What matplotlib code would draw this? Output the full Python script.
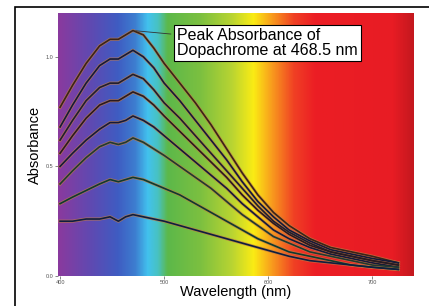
import numpy as np
import matplotlib
matplotlib.use('Agg')
import matplotlib.pyplot as plt
from matplotlib.colors import LinearSegmentedColormap
from matplotlib.patches import Rectangle

plt.rcParams['font.family'] = ['Liberation Sans', 'DejaVu Sans']

# wavelengths (nm)
wavelength = [400, 412, 425, 438, 448, 456, 463, 470, 480, 490, 500, 515,
              530, 545, 560, 575, 590, 605, 620, 640, 660, 680, 700, 725]

# absorbance curves, top to bottom
abs_1 = [0.77, 0.87, 0.97, 1.05, 1.08, 1.08, 1.10, 1.12, 1.10, 1.04, 0.97, 0.88,
         0.79, 0.69, 0.58, 0.47, 0.37, 0.29, 0.23, 0.17, 0.13, 0.11, 0.09, 0.06]
abs_2 = [0.68, 0.78, 0.88, 0.96, 0.99, 0.99, 1.01, 1.03, 1.00, 0.95, 0.88, 0.80,
         0.71, 0.62, 0.53, 0.43, 0.34, 0.27, 0.21, 0.16, 0.12, 0.10, 0.08, 0.06]
abs_3 = [0.62, 0.71, 0.80, 0.86, 0.88, 0.88, 0.90, 0.92, 0.90, 0.85, 0.79, 0.72,
         0.64, 0.56, 0.48, 0.40, 0.32, 0.25, 0.20, 0.15, 0.11, 0.09, 0.07, 0.05]
abs_4 = [0.56, 0.64, 0.72, 0.78, 0.80, 0.80, 0.82, 0.84, 0.82, 0.78, 0.73, 0.66,
         0.59, 0.52, 0.45, 0.37, 0.30, 0.24, 0.19, 0.14, 0.11, 0.09, 0.07, 0.05]
abs_5 = [0.50, 0.56, 0.62, 0.67, 0.70, 0.70, 0.71, 0.73, 0.71, 0.68, 0.64, 0.58,
         0.52, 0.46, 0.40, 0.33, 0.27, 0.21, 0.17, 0.13, 0.10, 0.08, 0.06, 0.04]
abs_6 = [0.42, 0.48, 0.54, 0.59, 0.61, 0.60, 0.61, 0.63, 0.61, 0.58, 0.55, 0.50,
         0.45, 0.40, 0.34, 0.28, 0.23, 0.18, 0.15, 0.11, 0.09, 0.07, 0.05, 0.04]
abs_7 = [0.33, 0.36, 0.39, 0.42, 0.44, 0.43, 0.44, 0.45, 0.44, 0.42, 0.40, 0.37,
         0.33, 0.29, 0.25, 0.21, 0.17, 0.14, 0.11, 0.09, 0.07, 0.05, 0.04, 0.03]
abs_8 = [0.25, 0.25, 0.26, 0.26, 0.27, 0.25, 0.27, 0.28, 0.27, 0.26, 0.25, 0.23,
         0.21, 0.19, 0.17, 0.15, 0.13, 0.11, 0.09, 0.07, 0.06, 0.05, 0.04, 0.03]

curves = [abs_1, abs_2, abs_3, abs_4, abs_5, abs_6, abs_7, abs_8]
line_colors = ['#3a2418', '#141a3a', '#1e1e30', '#2a1a20', '#141a3a',
               '#203a30', '#0e3a30', '#0e1e40']

x_ticks = [400, 500, 600, 700]
y_ticks = [0.0, 0.5, 1.0]
x_range = (398, 740)
y_range = (0.0, 1.2)

# visible spectrum behind the plot
spectrum = [(398, '#8a3a9e'), (430, '#5e4ab2'), (455, '#3f5cc2'),
            (472, '#3d7ed0'), (484, '#42c2ee'), (494, '#48c2c0'),
            (503, '#5cb84a'), (535, '#7cc040'), (565, '#b8d432'),
            (586, '#fbec14'), (605, '#f8961e'), (625, '#f04024'),
            (645, '#ec1e24'), (720, '#e81c24'), (740, '#c4181e')]

fig = plt.figure(figsize=(4.29, 3.06), dpi=100)
fig.patches.append(Rectangle((15 / 429, -0.1), 1.2, (306 - 7) / 306 + 0.1,
                             transform=fig.transFigure, fill=False,
                             edgecolor='black', lw=1.2))
ax = fig.add_axes([58 / 429, 30 / 306, 356 / 429, 263 / 306])

lo, hi = x_range
cmap = LinearSegmentedColormap.from_list(
    'spec', [((w - lo) / (hi - lo), c) for w, c in spectrum])
grad = np.linspace(0, 1, 512).reshape(1, -1)
ax.imshow(grad, cmap=cmap, aspect='auto', extent=[lo, hi, y_range[0], y_range[1]],
          zorder=0)

for ys, col in zip(curves, line_colors):
    ax.plot(wavelength, ys, color='#c27a44', lw=2.3, alpha=0.7,
            solid_joinstyle='round', zorder=2)
    ax.plot(wavelength, ys, color=col, lw=1.2, zorder=3)

ax.set_xlim(*x_range)
ax.set_ylim(*y_range)
ax.set_xticks(x_ticks)
ax.set_yticks(y_ticks)
ax.tick_params(labelsize=4, colors='#555555', length=2, width=0.5, pad=1)
for s in ax.spines.values():
    s.set_visible(False)

ax.set_xlabel('Wavelength (nm)', fontsize=10.5, labelpad=0)
ax.set_ylabel('Absorbance', fontsize=10.5, labelpad=3)

# leader line and callout
peak_i = wavelength.index(470)
ax.annotate('Peak Absorbance of\nDopachrome at 468.5 nm',
            xy=(wavelength[peak_i], abs_1[peak_i]), xytext=(0.335, 0.83),
            textcoords='axes fraction', fontsize=11.5, linespacing=0.95,
            ha='left', va='bottom',
            bbox=dict(boxstyle='square,pad=0.2', fc='white', ec='black', lw=0.8),
            arrowprops=dict(arrowstyle='-', color='#333333', lw=0.6),
            zorder=5)

fig.savefig('out.png', dpi=100)
